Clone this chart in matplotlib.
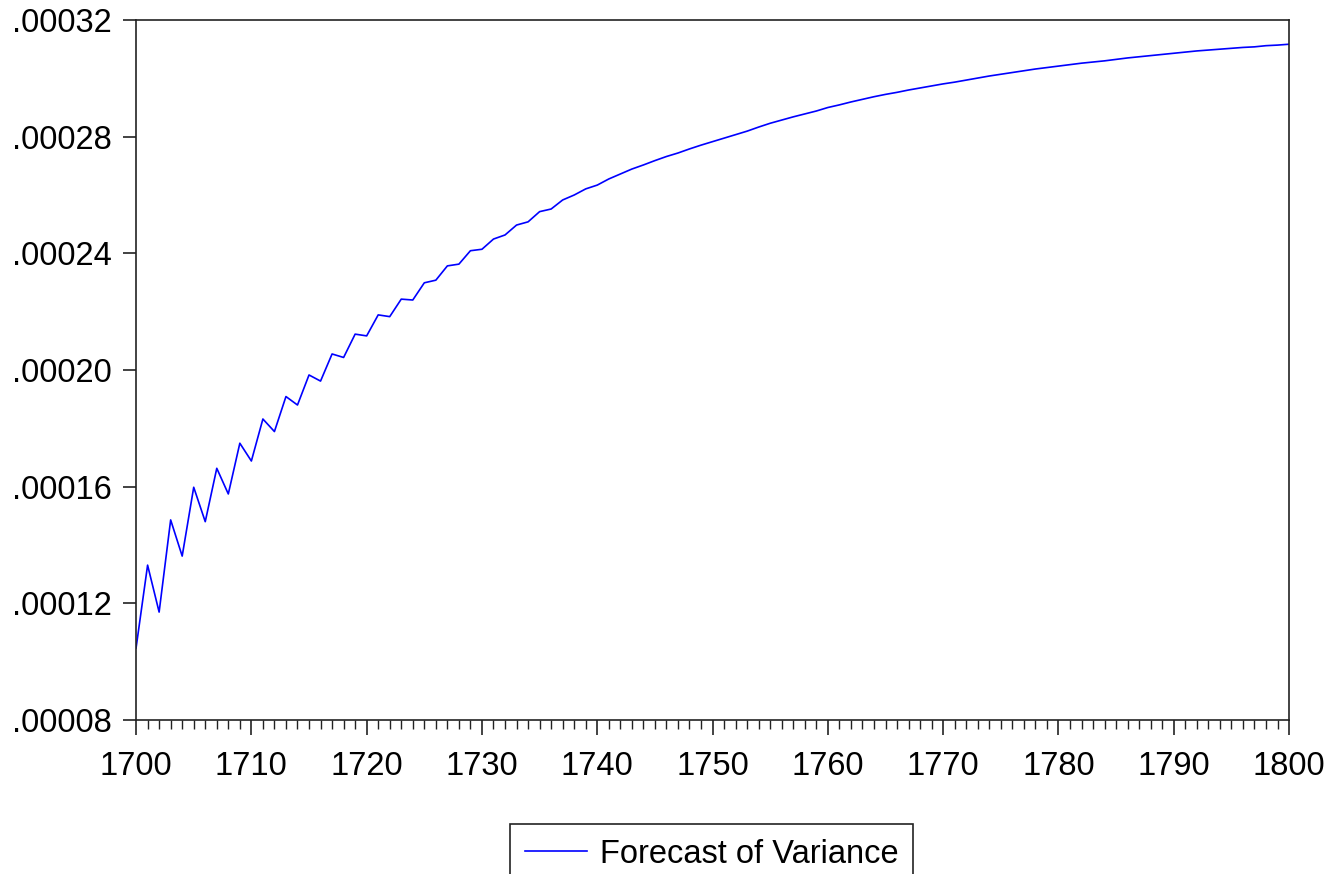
import numpy as np
import matplotlib
matplotlib.use("Agg")
import matplotlib.pyplot as plt
from matplotlib.ticker import FuncFormatter, MultipleLocator

# years 1700..1800, values (units of 1e-4)
years = np.arange(1700, 1801)
variance_e4 = [
    1.047, 1.331, 1.170, 1.486, 1.362, 1.598, 1.480, 1.663, 1.575, 1.749,
    1.688, 1.832, 1.789, 1.909, 1.880, 1.983, 1.962, 2.055, 2.043, 2.123,
    2.117, 2.189, 2.183, 2.243, 2.240, 2.299, 2.308, 2.357, 2.363, 2.409,
    2.414, 2.449, 2.463, 2.497, 2.508, 2.543, 2.552, 2.583, 2.600, 2.621,
    2.634, 2.655, 2.672, 2.689, 2.703, 2.718, 2.732, 2.744, 2.758, 2.771,
    2.783, 2.795, 2.807, 2.819, 2.833, 2.846, 2.857, 2.868, 2.878, 2.888,
    2.900, 2.909, 2.919, 2.928, 2.937, 2.945, 2.952, 2.960, 2.967, 2.974,
    2.981, 2.987, 2.994, 3.001, 3.008, 3.014, 3.020, 3.026, 3.032, 3.037,
    3.042, 3.047, 3.052, 3.056, 3.060, 3.065, 3.070, 3.074, 3.078, 3.082,
    3.086, 3.090, 3.094, 3.097, 3.100, 3.103, 3.106, 3.108, 3.112, 3.114,
    3.117,
]
variance = np.array(variance_e4) * 1e-4

y_ticks = [0.00008, 0.00012, 0.00016, 0.00020, 0.00024, 0.00028, 0.00032]
series_name = "Forecast of Variance"

plt.rcParams['font.family'] = ['Liberation Sans', 'DejaVu Sans']

fig = plt.figure(figsize=(13.34, 8.74), dpi=100)
ax = fig.add_axes([0.102, 0.1762, 0.8643, 0.8009])

line, = ax.plot(years, variance, color='#0000ff', lw=1.2, label=series_name)

ax.set_xlim(1700, 1800)
ax.set_ylim(0.00008, 0.00032)
ax.set_yticks(y_ticks)
ax.yaxis.set_major_formatter(FuncFormatter(lambda v, p: ("%.5f" % v).lstrip('0')))
ax.xaxis.set_major_locator(MultipleLocator(10))
ax.xaxis.set_minor_locator(MultipleLocator(1))

for s in ax.spines.values():
    s.set_linewidth(1.2)
    s.set_color('#222222')

fs = 23.5
ax.tick_params(axis='x', which='major', length=11, width=1.2, pad=11, labelsize=fs, color='#222222')
ax.tick_params(axis='x', which='minor', length=6.5, width=1.0, color='#222222')
ax.tick_params(axis='y', which='major', length=9.5, width=1.2, pad=8, labelsize=fs, color='#222222')

leg = fig.legend(handles=[line], loc='upper center', bbox_to_anchor=(0.5337, 1 - 824 / 874),
                 bbox_transform=fig.transFigure, fontsize=fs, fancybox=False,
                 framealpha=1, edgecolor='#222222', borderaxespad=0,
                 handlelength=1.9, handletextpad=0.4, borderpad=0.45)
leg.get_frame().set_linewidth(1.2)

fig.savefig("out.png", dpi=100)
